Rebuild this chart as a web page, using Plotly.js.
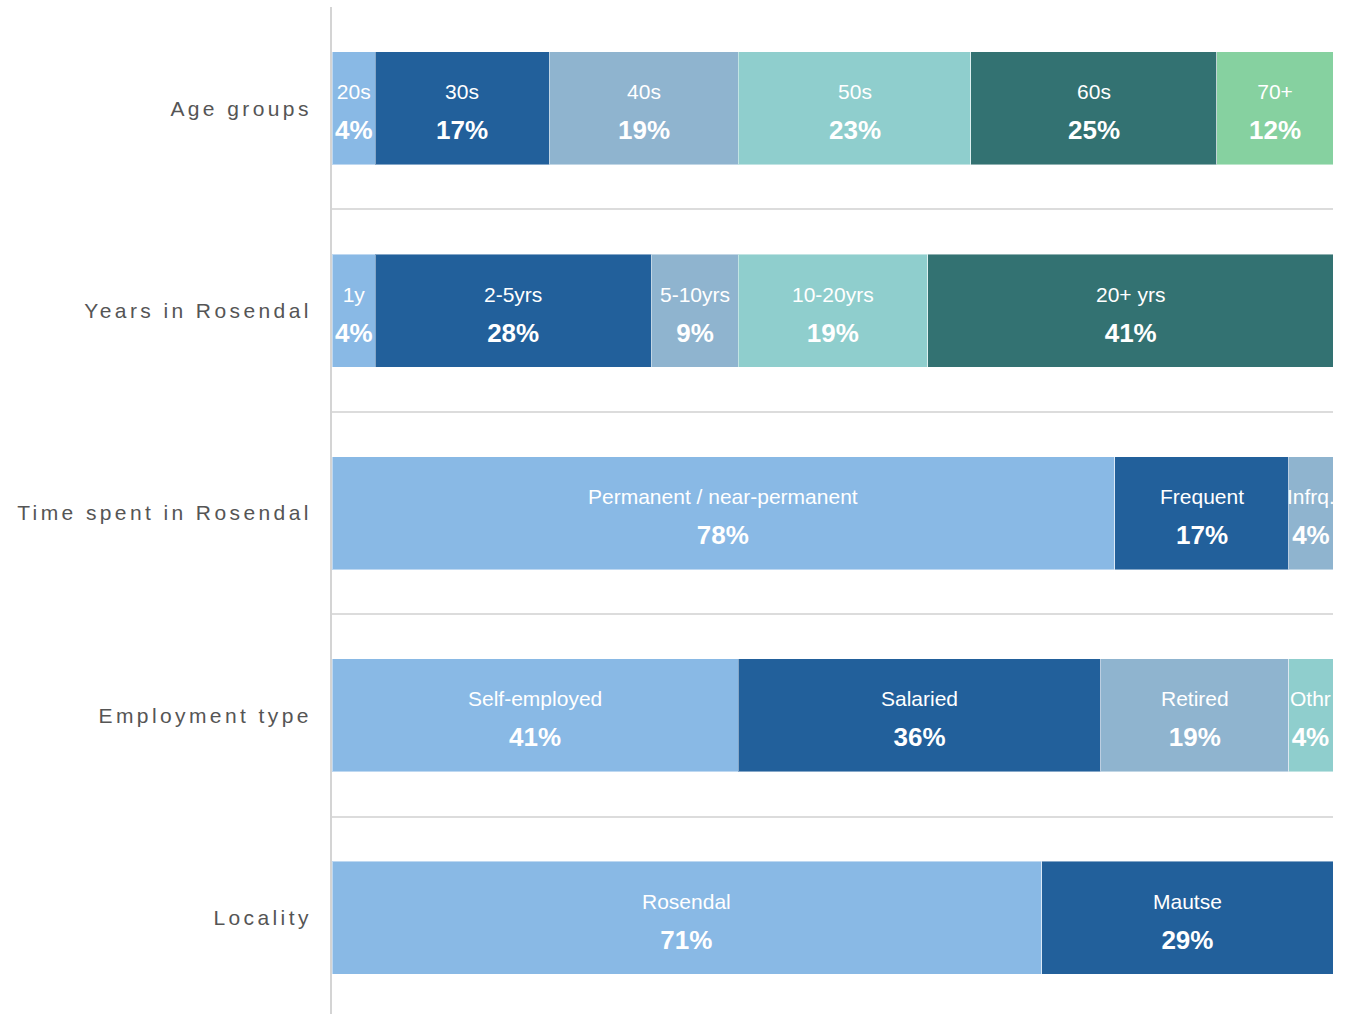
<!DOCTYPE html>
<html>
<head>
<meta charset="utf-8">
<script src="https://cdn.plot.ly/plotly-3.0.1.min.js"></script>
<style>
  html, body { margin: 0; padding: 0; background: #fff; }
  #chart { width: 1348px; height: 1014px; }
  .ytick text { letter-spacing: 3.4px; }
</style>
</head>
<body>
<div id="chart"></div>
<script>
// Categories (top to bottom)
const categories = ["Age groups", "Years in Rosendal", "Time spent in Rosendal", "Employment type", "Locality"];

// Segment labels per category (segment index = position in stack)
const segLabels = [
  ["20s", "30s", "40s", "50s", "60s", "70+"],
  ["1y", "2-5yrs", "5-10yrs", "10-20yrs", "20+ yrs"],
  ["Permanent / near-permanent", "Frequent", "Infrq."],
  ["Self-employed", "Salaried", "Retired", "Othr"],
  ["Rosendal", "Mautse"]
];

// Segment shares (%) per category
const segValues = [
  [4.3, 17.4, 18.9, 23.2, 24.6, 11.6],
  [4.3, 27.6, 8.7, 18.9, 40.5],
  [78.2, 17.4, 4.4],
  [40.6, 36.2, 18.8, 4.4],
  [70.9, 29.1]
];

// Colours by segment position
const segColors = ["#89B9E5", "#22609B", "#8FB4CF", "#8FCECD", "#337272", "#86D1A0"];

const traces = [];
for (let s = 0; s < segColors.length; s++) {
  const xs = [], ys = [];
  categories.forEach((c, i) => {
    if (segValues[i].length > s) {
      xs.push(segValues[i][s]);
      ys.push(c);
    }
  });
  traces.push({
    type: "bar",
    orientation: "h",
    x: xs,
    y: ys,
    textposition: "none",
    marker: { color: segColors[s], line: { color: "rgba(255,255,255,0.45)", width: 1 } },
    hoverinfo: "skip",
    showlegend: false
  });
}

// Segment labels placed at the middle of each stacked segment
const annotations = [];
categories.forEach((c, i) => {
  let start = 0;
  segValues[i].forEach((v, s) => {
    annotations.push({
      x: start + v / 2,
      y: c,
      xref: "x",
      yref: "y",
      showarrow: false,
      xanchor: "center",
      yanchor: "middle",
      yshift: -4.5,
      text: "<span style='font-size:21px'>" + segLabels[i][s] + "</span><br><span style='font-size:26px;font-weight:bold'>" + Math.round(v) + "%</span>",
      font: { family: "Liberation Sans, Arial, sans-serif", size: 30.7, color: "#ffffff" }
    });
    start += v;
  });
});

const layout = {
  width: 1348,
  height: 1014,
  margin: { l: 332, r: 15, t: 7, b: 0, pad: 0 },
  paper_bgcolor: "#ffffff",
  plot_bgcolor: "#ffffff",
  barmode: "stack",
  bargap: 0.442,
  showlegend: false,
  annotations: annotations,
  xaxis: {
    range: [0, 100],
    showgrid: false,
    zeroline: false,
    showticklabels: false,
    showline: false,
    ticks: "",
    fixedrange: true
  },
  yaxis: {
    type: "category",
    categoryorder: "array",
    categoryarray: categories,
    range: [4.475, -0.5],
    tickson: "boundaries",
    showgrid: true,
    gridcolor: "#dcdcdc",
    gridwidth: 2,
    showline: true,
    linecolor: "#d4d4d4",
    linewidth: 2,
    ticks: "",
    ticklabelstandoff: 14,
    tickfont: { family: "Liberation Sans, Arial, sans-serif", size: 21, color: "#555555" },
    zeroline: false,
    automargin: false,
    fixedrange: true
  }
};

Plotly.newPlot("chart", traces, layout, { displayModeBar: false, staticPlot: true });
</script>
</body>
</html>
